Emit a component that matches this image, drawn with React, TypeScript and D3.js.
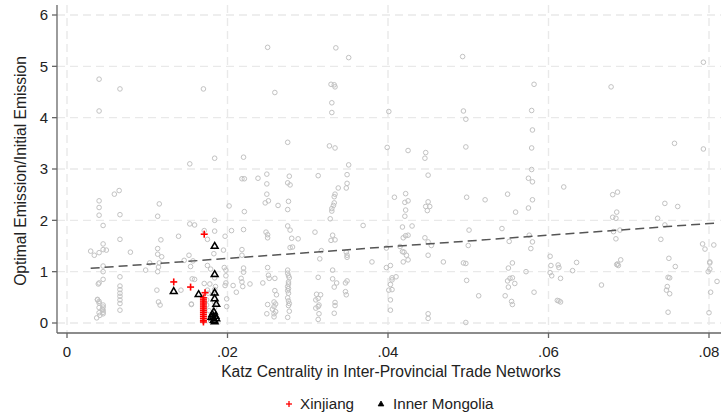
import React from "react";
import * as d3 from "d3";

const W = 722;
const H = 415;

// Katz centrality (x) vs optimal/initial emission (y) — other provinces
const otherProvinces: [number, number][] = [
  [0.00295, 1.4], [0.0034, 1.32], [0.004, 1.37], [0.0045, 1.43], [0.0049, 1.42],
  [0.004, 4.75], [0.004, 4.13], [0.004, 2.38], [0.004, 2.25], [0.004, 2.1], [0.0045, 1.9], [0.0045, 1.54],
  [0.0045, 1.11], [0.0045, 1.0], [0.0045, 0.85], [0.004, 0.78], [0.0039, 0.76],
  [0.0038, 0.46], [0.004, 0.42], [0.0045, 0.35], [0.004, 0.3], [0.0044, 0.27], [0.0045, 0.25], [0.004, 0.2],
  [0.0045, 0.21], [0.0041, 0.15], [0.0037, 0.1], [0.0045, 0.31], [0.0045, 0.18], [0.0038, 0.45], [0.004, 0.39],
  [0.0059, 2.51], [0.0065, 2.58], [0.0066, 4.56], [0.0066, 2.11], [0.0066, 1.63], [0.0066, 0.9], [0.0066, 0.72],
  [0.0066, 0.65], [0.0066, 0.58], [0.0066, 0.52], [0.0066, 0.45], [0.0066, 0.38], [0.0066, 0.25],
  [0.0079, 1.38],
  [0.0098, 1.03], [0.0103, 1.17], [0.0115, 1.17], [0.0114, 1.09], [0.0113, 1.0], [0.0115, 2.32], [0.0113, 2.08],
  [0.0117, 1.62], [0.0113, 1.45], [0.0113, 1.34], [0.0118, 1.29], [0.0112, 0.64], [0.0114, 0.41], [0.0116, 0.35],
  [0.0139, 1.69], [0.0142, 0.64], [0.0146, 1.22], [0.0153, 3.1], [0.0153, 1.93], [0.0159, 1.91], [0.0152, 1.32],
  [0.0157, 1.21], [0.0154, 1.1], [0.0156, 0.86], [0.0159, 0.85], [0.0155, 0.37], [0.0155, 0.36],
  [0.017, 4.56], [0.0184, 3.21], [0.0184, 2.0], [0.0171, 1.8], [0.0184, 1.79], [0.0175, 1.63], [0.0183, 1.35],
  [0.0175, 1.12], [0.0179, 1.05], [0.0171, 0.77], [0.0178, 0.76], [0.0185, 0.71], [0.0175, 0.64], [0.0176, 0.58],
  [0.0174, 0.45], [0.0174, 0.35], [0.0177, 0.24], [0.0179, 0.04], [0.0184, 1.49], [0.0184, 0.88], [0.0184, 0.65],
  [0.0184, 0.55], [0.0184, 0.4], [0.0184, 0.3], [0.0184, 0.2],
  [0.0202, 2.28], [0.0205, 1.8], [0.0197, 1.69], [0.0195, 1.42], [0.0196, 1.08], [0.0198, 1.03], [0.0198, 0.92],
  [0.0198, 0.78], [0.0197, 0.73], [0.0207, 0.73], [0.0211, 0.6], [0.0199, 0.47], [0.0199, 0.32],
  [0.022, 3.23], [0.0218, 2.81], [0.0221, 2.81], [0.0221, 2.17], [0.022, 1.82], [0.0218, 1.43], [0.0218, 1.32],
  [0.022, 1.07], [0.022, 0.99], [0.0217, 0.87], [0.0218, 0.8], [0.0219, 0.71], [0.0228, 0.76],
  [0.0238, 2.82], [0.0249, 2.9], [0.0249, 2.71], [0.0249, 2.51], [0.025, 5.37], [0.0259, 4.49], [0.0247, 2.34],
  [0.0251, 2.38], [0.0263, 2.29], [0.0248, 1.77], [0.025, 1.72], [0.025, 1.66], [0.025, 1.08], [0.0251, 0.93],
  [0.0252, 0.87], [0.0244, 0.78], [0.0259, 0.87],
  [0.0259, 0.63], [0.0261, 0.55], [0.0258, 0.41], [0.026, 0.37], [0.0258, 0.32], [0.0256, 0.27], [0.026, 0.22],
  [0.0258, 0.18], [0.0258, 0.12], [0.025, 0.36], [0.0249, 0.18],
  [0.0275, 3.52], [0.0277, 2.86], [0.0275, 2.73], [0.0278, 2.69], [0.0276, 2.37], [0.0275, 2.21], [0.0275, 1.89],
  [0.0278, 1.81], [0.028, 1.65], [0.0288, 1.64], [0.0278, 1.47], [0.0281, 1.48],
  [0.0275, 1.03], [0.0275, 0.97], [0.0276, 0.92], [0.0276, 0.8], [0.0275, 0.71], [0.0276, 0.58], [0.0275, 0.49],
  [0.0276, 0.43], [0.0277, 0.38], [0.0276, 0.34], [0.0277, 0.23], [0.0275, 0.11], [0.0277, 0.88], [0.0276, 0.76],
  [0.0275, 0.63], [0.0276, 0.67],
  [0.0313, 2.87], [0.0309, 1.77], [0.0317, 1.41], [0.0315, 1.25], [0.0313, 0.89], [0.0311, 0.56], [0.0316, 0.55],
  [0.0313, 0.48], [0.031, 0.45], [0.0314, 0.35], [0.0313, 0.32], [0.031, 0.29], [0.0314, 0.18], [0.0313, 0.07],
  [0.0335, 5.36], [0.0329, 4.65], [0.0333, 4.64], [0.0334, 4.6], [0.033, 4.29], [0.033, 4.1], [0.0327, 3.45],
  [0.0334, 3.41], [0.0334, 2.51], [0.0333, 2.46], [0.0333, 2.34], [0.0332, 2.29], [0.033, 2.23], [0.033, 2.18],
  [0.0328, 2.03], [0.0331, 1.71], [0.0329, 1.61], [0.0334, 1.62],
  [0.0331, 1.03], [0.0331, 0.86], [0.0336, 0.78], [0.0333, 0.7], [0.0334, 0.4], [0.0334, 0.34], [0.0333, 0.19],
  [0.0351, 5.17], [0.0349, 2.89], [0.0349, 2.72], [0.0348, 2.63], [0.0338, 2.63], [0.0351, 3.08], [0.0348, 1.38],
  [0.0349, 1.32], [0.0349, 1.28], [0.0349, 0.82], [0.0347, 0.78], [0.0347, 0.61], [0.0348, 0.55],
  [0.0369, 1.9], [0.038, 1.19],
  [0.0401, 4.12], [0.0399, 3.42], [0.0408, 2.45], [0.0398, 1.46], [0.0398, 1.08], [0.0403, 1.12], [0.041, 0.9],
  [0.0405, 0.88], [0.0405, 0.84], [0.0403, 0.75], [0.0401, 0.64], [0.0405, 0.65], [0.0403, 0.45], [0.0403, 0.25],
  [0.0425, 3.36], [0.0422, 2.52], [0.0425, 2.38], [0.0421, 2.35], [0.0422, 2.2], [0.0421, 2.08], [0.0418, 1.87],
  [0.043, 1.89], [0.0422, 1.7], [0.0425, 1.71], [0.0419, 1.66], [0.0415, 1.49], [0.0418, 1.39], [0.042, 1.38],
  [0.0423, 1.32], [0.0425, 1.23], [0.0419, 1.19],
  [0.0447, 3.32], [0.0446, 3.21], [0.045, 2.88], [0.045, 2.36], [0.0447, 2.27], [0.0452, 2.27], [0.0449, 2.19],
  [0.0446, 1.66], [0.045, 1.58], [0.0454, 1.51], [0.045, 1.32], [0.045, 0.18], [0.045, 0.09],
  [0.0469, 1.19],
  [0.0493, 5.19], [0.0494, 4.13], [0.0497, 3.97], [0.0497, 3.43], [0.0498, 2.45], [0.0501, 1.81], [0.05, 1.51],
  [0.0494, 1.17], [0.0497, 1.16], [0.0498, 0.83], [0.0497, 0.01],
  [0.0513, 0.53], [0.0521, 2.4], [0.0542, 1.84],
  [0.0549, 2.51], [0.0559, 2.16], [0.0551, 1.59], [0.0555, 1.17], [0.055, 1.07], [0.0549, 0.82], [0.0552, 0.87],
  [0.0555, 0.88], [0.0558, 0.77], [0.055, 0.7], [0.0546, 0.53], [0.0554, 0.42], [0.0555, 0.36],
  [0.0582, 4.65], [0.0579, 4.14], [0.058, 3.76], [0.0579, 3.41], [0.0579, 2.99], [0.0575, 2.82], [0.058, 2.75],
  [0.058, 2.4], [0.0575, 2.24], [0.0576, 1.71], [0.058, 1.58], [0.0578, 1.45], [0.0572, 1.0], [0.0582, 0.6],
  [0.0619, 2.65], [0.0602, 1.3], [0.0603, 1.12], [0.0602, 0.98], [0.0604, 0.92], [0.0612, 1.13], [0.0613, 1.08],
  [0.0615, 0.87], [0.0611, 0.44], [0.0613, 0.43], [0.0615, 0.41],
  [0.063, 1.02], [0.0635, 1.18], [0.0666, 0.74],
  [0.0678, 4.6], [0.068, 2.5], [0.0686, 2.55], [0.0685, 2.16], [0.068, 2.06], [0.0684, 2.04], [0.0681, 1.78],
  [0.0689, 1.81], [0.0684, 1.64], [0.069, 1.23], [0.0685, 1.14], [0.0687, 1.12], [0.0686, 1.15],
  [0.0757, 3.5], [0.0745, 2.33], [0.0761, 2.27], [0.0736, 2.04], [0.0745, 1.91], [0.074, 1.63], [0.075, 1.26],
  [0.0758, 1.1], [0.0749, 0.89], [0.0751, 0.88], [0.0748, 0.71], [0.0747, 0.64], [0.0751, 0.57], [0.0749, 0.21],
  [0.0793, 5.08], [0.0793, 3.39], [0.0792, 1.54], [0.0795, 1.44], [0.0806, 1.52], [0.0801, 1.19], [0.0801, 1.05],
  [0.0799, 1.0], [0.081, 0.81], [0.0802, 0.6], [0.08, 0.2], [0.0801, 1.17],
];

const xinjiang: [number, number][] = [
  [0.0171, 1.73], [0.0133, 0.8], [0.0154, 0.7], [0.0172, 0.59],
  [0.017, 0.49], [0.017, 0.45], [0.017, 0.41], [0.017, 0.37], [0.017, 0.33], [0.017, 0.29], [0.017, 0.25],
  [0.017, 0.21], [0.017, 0.17], [0.017, 0.13], [0.017, 0.09], [0.017, 0.05], [0.017, 0.02],
];

const innerMongolia: [number, number][] = [
  [0.0184, 1.5], [0.0184, 0.95], [0.0133, 0.62], [0.0164, 0.56], [0.0184, 0.59], [0.0184, 0.48], [0.0186, 0.37],
  [0.0183, 0.22], [0.0181, 0.17], [0.0185, 0.14], [0.0182, 0.11], [0.0186, 0.09], [0.0183, 0.06], [0.0184, 0.03],
  [0.018, 0.12],
];

const xTicks = [0, 0.02, 0.04, 0.06, 0.08];
const xTickLabels = ["0", ".02", ".04", ".06", ".08"];
const yTicks = [0, 1, 2, 3, 4, 5, 6];

// Linear fit: y = a + b * x
const fitIntercept = 1.031;
const fitSlope = 11.33;
const fitRange = [0.00295, 0.081];

const FONT = "'Liberation Sans', Arial, sans-serif";

export default function App() {
  const x = d3.scaleLinear().domain([0, 0.08]).range([67, 709]);
  const y = d3.scaleLinear().domain([0, 6]).range([323, 15]);
  const axisLeft = 57;
  const axisBottom = 333;
  const plotRight = 721;
  const plotTop = 5;

  const fitLine = d3
    .line<number>()
    .x((d) => x(d))
    .y((d) => y(fitIntercept + fitSlope * d));

  const tri = (cx: number, cy: number, s: number) =>
    `M${cx},${cy - s} L${cx + s * 0.95},${cy + s * 0.65} L${cx - s * 0.95},${cy + s * 0.65} Z`;

  return (
    <svg
      width={W}
      height={H}
      style={{ position: "absolute", left: 0, top: 0, background: "#fff" }}
      fontFamily={FONT}
    >
      <rect x={0} y={0} width={W} height={H} fill="#fff" />
      {/* grid */}
      {yTicks.map((t) => (
        <line
          key={"gy" + t}
          x1={axisLeft}
          x2={plotRight}
          y1={y(t)}
          y2={y(t)}
          stroke="#e9e9e9"
          strokeWidth={1.4}
          strokeDasharray="8 5"
        />
      ))}
      {xTicks.map((t) => (
        <line
          key={"gx" + t}
          x1={x(t)}
          x2={x(t)}
          y1={plotTop}
          y2={axisBottom}
          stroke="#e9e9e9"
          strokeWidth={1.4}
          strokeDasharray="8 5"
        />
      ))}
      {/* other provinces */}
      {otherProvinces.map(([a, b], i) => (
        <circle key={"o" + i} cx={x(a)} cy={y(b)} r={2.3} fill="none" stroke="#c2c2c2" strokeWidth={1} />
      ))}
      {/* fit line */}
      <path
        d={fitLine(fitRange) || ""}
        fill="none"
        stroke="#555"
        strokeWidth={1.5}
        strokeDasharray="9 5"
      />
      {/* Inner Mongolia */}
      {innerMongolia.map(([a, b], i) => (
        <path key={"m" + i} d={tri(x(a), y(b), 3.6)} fill="none" stroke="#000" strokeWidth={1.5} />
      ))}
      {/* Xinjiang */}
      {xinjiang.map(([a, b], i) => (
        <g key={"x" + i} stroke="#f00" strokeWidth={1.6}>
          <line x1={x(a) - 3.5} x2={x(a) + 3.5} y1={y(b)} y2={y(b)} />
          <line x1={x(a)} x2={x(a)} y1={y(b) - 3.5} y2={y(b) + 3.5} />
        </g>
      ))}
      {/* axes */}
      <line x1={axisLeft} x2={axisLeft} y1={plotTop} y2={axisBottom} stroke="#666" strokeWidth={1.3} />
      <line x1={axisLeft} x2={plotRight} y1={axisBottom} y2={axisBottom} stroke="#666" strokeWidth={1.3} />
      {yTicks.map((t) => (
        <g key={"yt" + t}>
          <line x1={axisLeft - 5} x2={axisLeft} y1={y(t)} y2={y(t)} stroke="#666" strokeWidth={1.3} />
          <text x={48} y={y(t)} dy="0.36em" textAnchor="end" fontSize={15} fill="#222">
            {t}
          </text>
        </g>
      ))}
      {xTicks.map((t, i) => (
        <g key={"xt" + t}>
          <line x1={x(t)} x2={x(t)} y1={axisBottom} y2={axisBottom + 5} stroke="#666" strokeWidth={1.3} />
          <text x={x(t)} y={357} textAnchor="middle" fontSize={15} fill="#222">
            {xTickLabels[i]}
          </text>
        </g>
      ))}
      {/* axis titles */}
      <text x={391} y={377} textAnchor="middle" fontSize={15.6} fill="#222">
        Katz Centrality in Inter-Provincial Trade Networks
      </text>
      <text
        transform={`translate(26,171) rotate(-90)`}
        textAnchor="middle"
        fontSize={15.6}
        fill="#222"
      >
        Optimal Emission/Initial Emission
      </text>
      {/* legend */}
      <g stroke="#f00" strokeWidth={1.3}>
        <line x1={286} x2={292} y1={404} y2={404} />
        <line x1={289} x2={289} y1={401} y2={407} />
      </g>
      <text x={300} y={409} fontSize={15.2} fill="#222">
        Xinjiang
      </text>
      <path d={tri(381, 404, 3)} fill="#000" stroke="#000" strokeWidth={0.8} />
      <text x={393} y={409} fontSize={15.2} fill="#222">
        Inner Mongolia
      </text>
    </svg>
  );
}
